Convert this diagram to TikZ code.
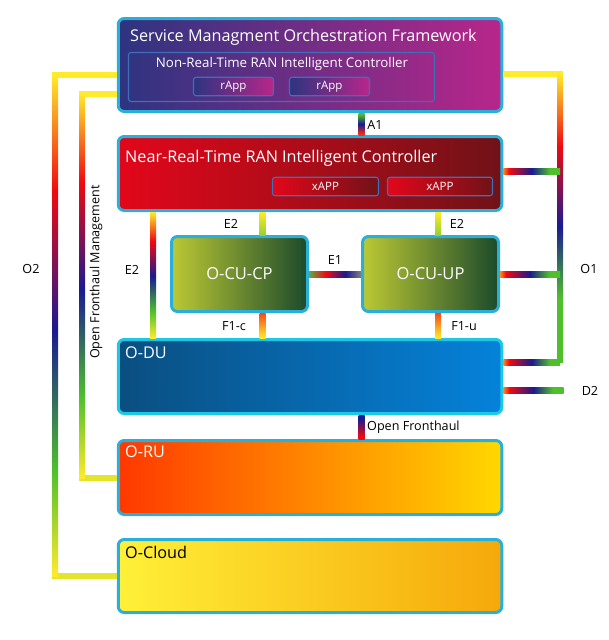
\documentclass[tikz,border=0pt]{standalone}
\usepackage{fontspec}
\setmainfont{Open Sans}
\usetikzlibrary{positioning}
\definecolor{edgeblue}{HTML}{29B0DA}
\definecolor{innerblue}{HTML}{3F6FB8}
\definecolor{railyellow}{HTML}{FFEB2A}
\definecolor{railgreen}{HTML}{4FC02C}
\definecolor{railred}{HTML}{F00A10}
\definecolor{railnavy}{HTML}{1A1A90}
\definecolor{railorange}{HTML}{FF8A1E}
\pgfdeclareverticalshading{railv}{100bp}{color(0bp)=(railyellow);color(25bp)=(railyellow);color(35.5bp)=(railgreen);color(49.5bp)=(railnavy);color(63.5bp)=(railred);color(75bp)=(railyellow);color(100bp)=(railyellow)}
\pgfdeclareverticalshading{railo}{100bp}{color(0bp)=(railgreen);color(36bp)=(railgreen);color(48.5bp)=(railnavy);color(62.5bp)=(railred);color(75bp)=(railyellow);color(100bp)=(railyellow)}
\pgfdeclareverticalshading{railtop}{100bp}{color(0bp)=(railgreen!60!railyellow);color(25bp)=(railgreen!60!railyellow);color(75bp)=(railyellow);color(100bp)=(railyellow)}
\pgfdeclareverticalshading{railf}{100bp}{color(0bp)=(railyellow);color(25bp)=(railyellow);color(75bp)=(railred!50!railorange);color(100bp)=(railred!50!railorange)}
\pgfdeclareverticalshading{raila}{100bp}{color(0bp)=(railred);color(27bp)=(railred!70!railorange);color(50bp)=(railnavy);color(72bp)=(railgreen);color(100bp)=(railgreen)}
\pgfdeclareverticalshading{railfh}{100bp}{color(0bp)=(railred);color(30bp)=(railred);color(68bp)=(railnavy);color(100bp)=(railnavy)}
\pgfdeclarehorizontalshading{railh}{100bp}{color(0bp)=(railorange);color(25bp)=(railorange);color(30bp)=(railred);color(50bp)=(railnavy);color(66bp)=(railgreen);color(100bp)=(railgreen)}
\pgfdeclarehorizontalshading{raile}{100bp}{color(0bp)=(railgreen!70!gray);color(25bp)=(railgreen!70!gray);color(41bp)=(railred);color(60bp)=(railnavy);color(75bp)=(gray);color(100bp)=(gray)}
\newcommand{\railver}[3]{\draw[rail](#1)--(#2);\path[shading=#3]([xshift=-3pt]#1)rectangle([xshift=3pt]#2);}
\newcommand{\railhor}[3]{\draw[rail](#1)--(#2);\path[shading=#3]([yshift=3pt]#1)rectangle([yshift=-3pt]#2);}
\definecolor{culeft}{HTML}{BCC934}
\definecolor{curight}{HTML}{1C4A2B}
\tikzset{
  panel/.style={draw=edgeblue,line width=3pt,rounded corners=6pt,inner sep=0pt,minimum width=383.5pt},
  cubox/.style={panel,minimum width=136pt,minimum height=75pt,left color=culeft,right color=curight,text=white,font=\fontsize{16.5}{20}\selectfont},
  inbox/.style={draw=innerblue,line width=1.1pt,rounded corners=2.5pt,inner sep=0pt,minimum height=18.5pt,text=white,font=\fontsize{11.5}{14}\selectfont},
  apptext/.style={text=white,inner sep=0pt,anchor=base west,font=\fontsize{16.2}{19}\selectfont},
  wlabel/.style={text=black,inner sep=0pt,font=\fontsize{12.6}{15}\selectfont},
  rail/.style={line width=4pt,railnavy},
  railplain/.style={line width=6pt},
}
\begin{document}
\begin{tikzpicture}[x=1pt,y=-1pt]
\useasboundingbox(0,0)rectangle(609,640);
\node[panel,minimum height=93pt,left color={rgb,255:red,45;green,52;blue,128},right color={rgb,255:red,184;green,38;blue,138}](smo)at(310,65){};
\node[panel,minimum height=74pt,left color={rgb,255:red,226;green,7;blue,26},right color={rgb,255:red,112;green,18;blue,24}](nearrt)at(310,173.5){};
\node[cubox](cucp)at(239.5,274){O-CU-CP};
\node[cubox](cuup)at(430.5,274){O-CU-UP};
\node[panel,draw=edgeblue!70!cyan,minimum height=74pt,left color={rgb,255:red,10;green,78;blue,128},right color={rgb,255:red,5;green,130;blue,218}](odu)at(310,376.5){};
\node[panel,minimum height=74pt,left color={rgb,255:red,255;green,56;blue,0},right color={rgb,255:red,255;green,216;blue,0}](oru)at(310,477.5){};
\node[panel,minimum height=73pt,left color={rgb,255:red,255;green,240;blue,56},right color={rgb,255:red,246;green,168;blue,10}](ocloud)at(310,576){};
\node[apptext](smotext)at(130,41){Service Managment Orchestration Framework};
\node[apptext](nrttext)at(125,162){Near-Real-Time RAN Intelligent Controller};
\node[apptext](dutext)at(125,358){O-DU};
\node[apptext](rutext)at(125,457){O-RU};
\node[apptext,text=black](cloudtext)at(125,558){O-Cloud};
\node[inbox,minimum width=306pt,minimum height=49pt](nonrt)at(281.5,77){};
\node[text=white,inner sep=0pt,font=\fontsize{13.3}{16}\selectfont](nonrttext)at(282,64){Non-Real-Time RAN Intelligent Controller};
\node[inbox,minimum width=80pt,left color={rgb,255:red,45;green,52;blue,128},right color={rgb,255:red,184;green,38;blue,138}](rappa)at(233.5,86.5){rApp};
\node[inbox,minimum width=80pt,left color={rgb,255:red,45;green,52;blue,128},right color={rgb,255:red,184;green,38;blue,138}](rappb)at(329.5,86.5){rApp};
\node[inbox,minimum width=106pt,left color={rgb,255:red,226;green,7;blue,26},right color={rgb,255:red,112;green,18;blue,24}](xappa)at(325.5,186.5){xAPP};
\node[inbox,minimum width=105pt,left color={rgb,255:red,226;green,7;blue,26},right color={rgb,255:red,112;green,18;blue,24}](xappb)at(440,186.5){xAPP};
\coordinate(otwoa)at(smo.west|-0,75);
\coordinate(otwob)at(55,75);
\coordinate(otwoc)at(55,576);
\coordinate(otwod)at(ocloud.west|-0,576);
\draw[railplain,railyellow](otwoa)--([xshift=-3pt]otwob);
\draw[railplain,railyellow!85!railgreen]([xshift=-3pt]otwoc)--(otwod);
\railver{otwob}{otwoc}{railv}
\coordinate(ofha)at(smo.west|-0,93.5);
\coordinate(ofhb)at(82,93.5);
\coordinate(ofhc)at(82,478);
\coordinate(ofhd)at(oru.west|-0,478);
\draw[railplain,railyellow](ofha)--([xshift=-3pt]ofhb);
\draw[railplain,railyellow!85!railgreen]([xshift=-3pt]ofhc)--(ofhd);
\railver{ofhb}{ofhc}{railv}
\coordinate(oonea)at(smo.east|-0,73.5);
\coordinate(ooneb)at(560,73.5);
\coordinate(oonec)at(560,362.5);
\coordinate(ooned)at(odu.east|-0,362.5);
\coordinate(oonee)at(nearrt.east|-0,171);
\coordinate(oonef)at(cuup.east|-0,274.5);
\draw[railplain,railyellow](oonea)--([xshift=3pt]ooneb);
\railver{ooneb}{oonec}{railo}
\railhor{ooned}{oonec}{railh}
\railhor{oonee}{560,171}{railh}
\railhor{oonef}{560,274.5}{railh}
\coordinate(dtwo)at(563.5,390.5);
\railhor{odu.east|-0,390.5}{dtwo}{railh}
\railver{smo.south-|361.5,0}{nearrt.north-|361.5,0}{raila}
\railver{odu.south-|361.5,0}{oru.north-|361.5,0}{railfh}
\railver{nearrt.south-|153,0}{odu.north-|153,0}{railv}
\railver{nearrt.south-|262.5,0}{cucp.north-|262.5,0}{railtop}
\railver{nearrt.south-|438,0}{cuup.north-|438,0}{railtop}
\railver{cucp.south-|262.5,0}{odu.north-|262.5,0}{railf}
\railver{cuup.south-|438,0}{odu.north-|438,0}{railf}
\railhor{cucp.east}{cuup.west}{raile}
\node[wlabel](labotwo)at(31,269){O2};
\node[wlabel](labofm)at(96,272)[rotate=90]{Open Fronthaul Management};
\node[wlabel](labeta)at(132,270){E2};
\node[wlabel](labetb)at(231,224){E2};
\node[wlabel](labetc)at(457,224){E2};
\node[wlabel](labea)at(335,260){E1};
\node[wlabel](labfc)at(234,326){F1-c};
\node[wlabel](labfu)at(464,326){F1-u};
\node[wlabel](labaone)at(375,125){A1};
\node[wlabel](labofh)[anchor=west]at(367,427){Open Fronthaul};
\node[wlabel](laboone)at(589,269){O1};
\node[wlabel](labdtwo)at(590,391){D2};
\end{tikzpicture}
\end{document}
